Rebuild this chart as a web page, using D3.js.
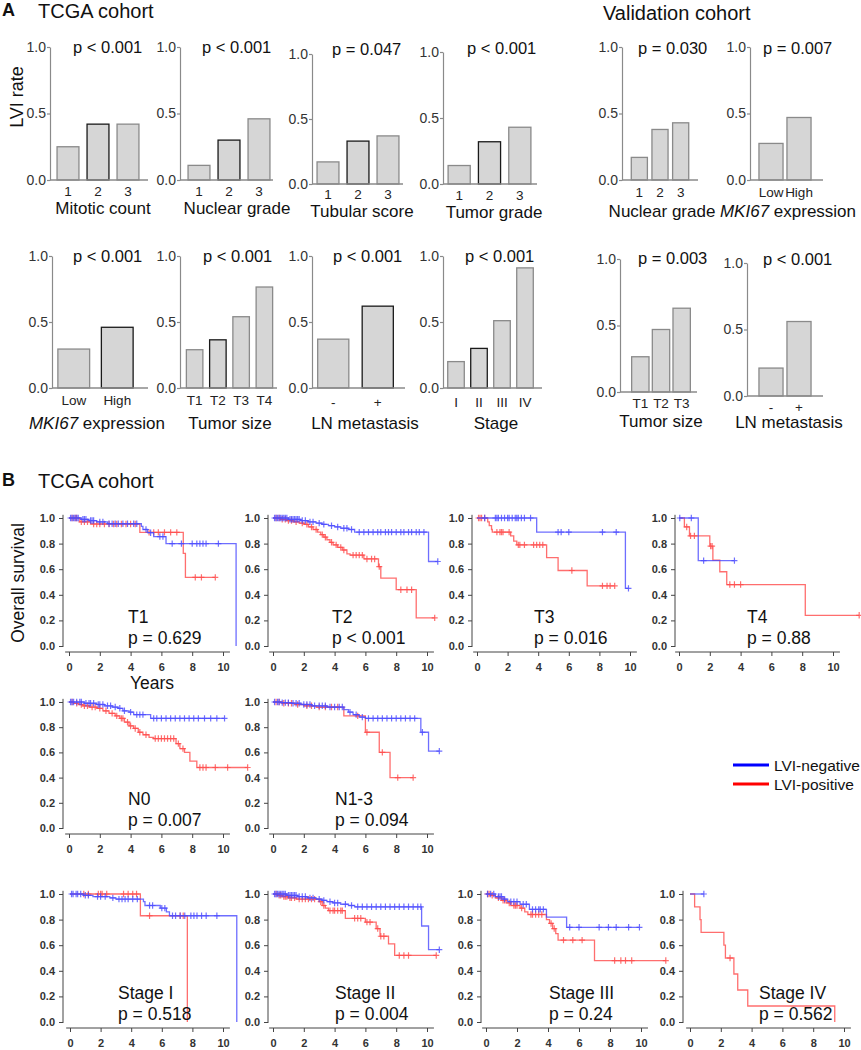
<!DOCTYPE html>
<html><head><meta charset="utf-8">
<script src="https://cdn.jsdelivr.net/npm/d3@7"></script>
<style>
body{margin:0;background:#fff}
svg text{font-family:"Liberation Sans",Arial,Helvetica,sans-serif}
</style>
</head><body>
<svg id="c" width="861" height="1050"></svg>
<script>
// ---------------- DATA : panel A (LVI rate bar charts) ----------------
const barTitles = ["Mitotic count","Nuclear grade","Tubular score","Tumor grade","Nuclear grade","MKI67 expression",
                   "MKI67 expression","Tumor size","LN metastasis","Stage","Tumor size","LN metastasis"];
const barCategories = [["1","2","3"],["1","2","3"],["1","2","3"],["1","2","3"],["1","2","3"],["Low","High"],
                       ["Low","High"],["T1","T2","T3","T4"],["-","+"],["I","II","III","IV"],["T1","T2","T3"],["-","+"]];
const barRates = [[0.25,0.42,0.42],[0.11,0.30,0.46],[0.17,0.33,0.37],[0.14,0.32,0.43],[0.17,0.38,0.43],[0.275,0.47],
                  [0.295,0.46],[0.29,0.365,0.54,0.765],[0.37,0.62],[0.20,0.30,0.51,0.91],[0.265,0.47,0.63],[0.21,0.56]];
const barPLabels = ["p < 0.001","p < 0.001","p = 0.047","p < 0.001","p = 0.030","p = 0.007",
                    "p < 0.001","p < 0.001","p < 0.001","p < 0.001","p = 0.003","p < 0.001"];
const barTickValues = [0, 0.5, 1.0];

// ---------------- DATA : panel B (Kaplan-Meier) ----------------
const kmNames = ["T1","T2","T3","T4","N0","N1-3","Stage I","Stage II","Stage III","Stage IV"];
const kmPLabels = ["p = 0.629","p < 0.001","p = 0.016","p = 0.88","p = 0.007","p = 0.094","p = 0.518","p = 0.004","p = 0.24","p = 0.562"];
const kmTickValuesX = [0,2,4,6,8,10];
const kmTickValuesY = [0,0.2,0.4,0.6,0.8,1.0];
// LVI-negative: [time (years), survival after event]
const kmNegSteps = [
  [[0.8,0.99],[1.3,0.98],[1.8,0.97],[2.5,0.955],[4.7,0.935],[4.8,0.91],[5.1,0.885],[5.5,0.855],[6.3,0.80],[10.85,0.0]],
  [[1.0,0.99],[1.8,0.98],[2.3,0.97],[2.8,0.96],[3.2,0.95],[3.6,0.94],[4.0,0.93],[4.4,0.92],[4.9,0.91],[5.3,0.89],[10.1,0.66]],
  [[3.9,0.89],[9.7,0.45]],
  [[1.25,0.667]],
  [[1.0,0.99],[1.8,0.98],[2.3,0.97],[2.8,0.96],[3.2,0.95],[3.5,0.93],[3.9,0.92],[4.2,0.90],[5.3,0.87]],
  [[0.5,0.995],[1.2,0.99],[1.8,0.98],[2.5,0.97],[3.5,0.96],[4.6,0.94],[4.9,0.92],[5.2,0.90],[5.6,0.88],[6.0,0.87],[9.6,0.76],[10.1,0.61]],
  [[0.9,0.99],[1.5,0.98],[2.6,0.97],[3.0,0.96],[4.8,0.94],[4.9,0.91],[5.9,0.89],[6.3,0.86],[6.5,0.83],[10.9,0.0]],
  [[0.9,0.99],[1.6,0.98],[2.2,0.97],[2.8,0.96],[3.2,0.95],[3.5,0.94],[3.9,0.93],[4.4,0.92],[4.9,0.91],[5.3,0.90],[9.65,0.75],[10.1,0.565]],
  [[0.6,0.98],[1.1,0.96],[1.4,0.94],[2.2,0.92],[2.8,0.88],[3.9,0.82],[5.2,0.74]],
  []
];
const kmNegCensor = [
  [0.1,0.2,0.3,0.4,0.5,0.6,0.9,1.0,1.1,1.4,1.5,1.6,2.0,2.2,2.6,2.8,3.0,3.2,3.5,3.8,4.2,4.4,5.0,5.3,5.9,6.1,6.7,7.3,8.0,8.3,8.5,8.7,8.9,9.7],
  [0.1,0.2,0.3,0.4,0.5,0.6,0.7,0.8,0.9,1.1,1.2,1.3,1.4,1.5,1.6,1.7,1.9,2.1,2.4,2.6,3.0,3.3,3.8,4.2,4.6,4.8,5.1,5.6,5.9,6.2,6.5,6.8,7.0,7.3,7.5,7.7,8.0,8.3,8.5,8.8,9.0,9.3,9.5,9.8,10.7],
  [0.5,1.2,1.3,1.4,1.6,1.8,2.0,2.1,2.3,2.5,2.6,2.7,2.9,3.1,3.5,5.3,5.5,6.0,8.2,9.1,9.9],
  [0.05,0.8,1.6,3.6],
  [0.1,0.2,0.3,0.5,0.7,0.8,1.1,1.3,1.4,1.6,1.9,2.0,2.2,2.5,2.7,3.0,3.3,3.6,4.0,4.4,4.6,4.8,5.5,5.7,6.0,6.3,6.6,6.9,7.2,7.5,7.8,8.1,8.4,8.8,9.2,9.6,10.1],
  [0.1,0.3,0.4,0.6,0.8,1.0,1.3,1.5,1.7,2.0,2.2,2.4,2.7,3.0,3.2,3.4,3.7,4.0,4.3,4.5,5.0,5.4,5.8,6.2,6.5,6.8,7.1,7.4,7.7,8.0,8.3,8.6,8.9,9.2,9.7,10.8],
  [0.1,0.2,0.4,0.5,0.7,1.0,1.2,1.8,2.0,2.3,2.8,3.2,3.4,3.6,3.8,4.1,4.4,5.2,5.4,6.0,6.2,6.7,6.9,7.2,7.5,7.9,8.1,8.3,8.6,8.9,9.6],
  [0.1,0.2,0.3,0.4,0.5,0.6,0.7,0.8,1.0,1.1,1.2,1.3,1.4,1.5,1.7,1.9,2.1,2.4,2.6,3.0,3.3,3.7,4.0,4.2,4.7,5.1,5.5,5.8,6.1,6.4,6.7,7.0,7.3,7.6,7.9,8.2,8.5,8.8,9.1,9.4,9.6,10.8],
  [0.1,0.3,0.5,0.8,0.9,1.0,1.2,1.6,1.8,2.0,2.4,2.6,3.0,3.2,3.4,3.5,3.7,5.4,6.0,7.3,7.9,8.4,9.2,9.9],
  [0.9]
];
// LVI-positive
const kmPosSteps = [
  [[0.7,0.97],[1.4,0.953],[4.6,0.888],[7.42,0.724],[7.56,0.536]],
  [[0.5,0.99],[0.9,0.98],[1.3,0.97],[1.7,0.96],[2.0,0.95],[2.3,0.93],[2.6,0.91],[2.9,0.89],[3.1,0.87],[3.3,0.85],[3.5,0.83],[3.7,0.81],[3.9,0.79],[4.2,0.77],[4.5,0.75],[4.8,0.72],[5.0,0.71],[5.9,0.68],[6.85,0.62],[7.0,0.53],[8.0,0.44],[9.3,0.22]],
  [[0.7,0.97],[0.8,0.94],[0.95,0.91],[1.0,0.89],[2.2,0.86],[2.4,0.82],[2.6,0.79],[4.55,0.69],[5.3,0.59],[7.2,0.47]],
  [[0.35,0.93],[0.68,0.86],[2.0,0.78],[2.2,0.67],[2.65,0.58],[3.1,0.48],[8.2,0.24]],
  [[0.3,0.99],[0.6,0.98],[0.9,0.97],[1.3,0.96],[1.8,0.95],[2.2,0.93],[2.6,0.91],[3.0,0.89],[3.3,0.87],[3.6,0.84],[3.9,0.81],[4.2,0.79],[4.5,0.76],[4.8,0.74],[5.2,0.72],[5.5,0.71],[6.95,0.67],[7.2,0.63],[7.5,0.60],[7.85,0.53],[8.3,0.48]],
  [[0.6,0.99],[1.4,0.98],[2.0,0.97],[2.8,0.96],[4.6,0.89],[6.0,0.76],[6.9,0.60],[7.6,0.40]],
  [[4.6,0.83],[7.67,0.0]],
  [[0.3,0.99],[0.6,0.98],[1.0,0.97],[1.5,0.96],[3.0,0.94],[3.2,0.91],[3.4,0.89],[3.6,0.87],[4.7,0.81],[6.0,0.78],[6.7,0.73],[6.95,0.67],[7.5,0.61],[7.9,0.52]],
  [[0.3,0.99],[0.6,0.97],[1.0,0.95],[1.3,0.93],[1.6,0.91],[2.2,0.89],[2.5,0.86],[2.7,0.84],[3.9,0.80],[4.1,0.77],[4.3,0.73],[4.5,0.69],[4.65,0.64],[7.0,0.48]],
  [[0.3,0.9],[0.65,0.8],[0.72,0.7],[2.2,0.6],[2.3,0.5],[2.85,0.375],[3.1,0.25],[3.75,0.125],[9.4,0.0]]
];
const kmPosCensor = [
  [0.2,0.4,0.5,0.8,1.0,1.2,1.6,1.8,2.0,2.3,2.6,2.9,3.1,3.4,3.7,4.0,4.3,5.2,5.5,5.8,6.2,6.6,7.0,8.2,8.6,9.5],
  [0.2,0.4,0.6,0.8,1.0,1.2,1.5,1.9,2.2,2.5,2.8,3.2,3.4,3.8,4.1,4.4,4.6,5.2,5.4,5.6,5.8,6.1,6.4,6.6,6.9,8.3,8.7,9.0,10.5],
  [0.1,0.2,0.3,0.5,1.3,1.5,1.6,1.7,2.1,2.7,2.8,3.1,3.7,3.9,4.1,4.3,6.2,8.2,8.5,8.7,9.0],
  [0.5,0.75,1.0,2.05,2.15,3.3,3.6,4.0,11.7],
  [0.2,0.5,0.8,1.0,1.2,1.5,1.7,2.0,2.4,2.8,3.1,3.4,3.5,3.8,4.0,4.3,4.6,5.0,5.6,5.8,6.0,6.2,6.4,6.6,6.8,7.1,7.4,8.5,8.7,8.9,9.5,10.3,11.6],
  [0.2,0.4,0.7,1.0,1.2,1.6,2.2,2.5,3.0,3.4,3.8,4.2,5.5,6.1,7.1,8.1,9.1],
  [0.9,1.2,1.85,2.0,2.1,2.4,3.5,3.8,4.1,4.35,5.2,7.2,7.4],
  [0.2,0.4,0.5,0.7,0.8,0.9,1.1,1.2,1.4,1.7,1.9,2.1,2.3,2.5,2.7,3.1,3.3,3.7,3.9,4.0,4.2,4.4,4.5,5.3,5.5,5.7,6.1,6.3,6.8,7.0,7.2,8.2,8.5,8.8,10.6],
  [0.1,0.2,0.4,0.8,1.1,1.2,1.5,1.8,1.9,2.0,2.3,2.9,3.0,3.2,3.4,3.6,4.2,4.4,5.0,5.6,6.2,8.3,8.7,9.0,9.4,11.6],
  [2.6]
];
const legendLabels = ["LVI-negative","LVI-positive"];

// ---------------- LAYOUT / STYLE ----------------
const barLayout = [
  {ax:50, xEnd:148, y1:47, y0:180, b0:53, b1:143, pad:.27, px:73, py:47, cy:191, tx:103, ty:208, em:1},
  {ax:180,xEnd:273, y1:47, y0:180, b0:184,b1:274, pad:.27, px:202,py:47, cy:191, tx:237, ty:208, em:1},
  {ax:312,xEnd:403, y1:54, y0:184, b0:313,b1:403, pad:.27, px:332,py:49, cy:194, tx:362, ty:211, em:1},
  {ax:443,xEnd:537, y1:52, y0:184, b0:444,b1:535, pad:.27, px:467,py:48, cy:195, tx:494, ty:212, em:1},
  {ax:622,xEnd:698, y1:47, y0:180, b0:629,b1:691, pad:.22, px:638,py:48, cy:192, tx:662, ty:211, em:-1},
  {ax:750,xEnd:823, y1:47, y0:180, b0:757,b1:813, pad:.14, px:763,py:48, cy:192, tx:788, ty:211, em:-1},
  {ax:52, xEnd:148, y1:256,y0:388, b0:52, b1:139, pad:.27, px:73, py:256,cy:400, tx:97,  ty:423, em:1},
  {ax:180,xEnd:277, y1:256,y0:388, b0:183,b1:276, pad:.29, px:203,py:256,cy:400, tx:230, ty:423, em:1},
  {ax:312,xEnd:405, y1:256,y0:388, b0:311,b1:400, pad:.30, px:333,py:256,cy:402, tx:365, ty:423, em:1},
  {ax:443,xEnd:542, y1:256,y0:388, b0:444.5,b1:536.5,pad:.28,px:465,py:256,cy:402, tx:496, ty:423, em:1},
  {ax:620,xEnd:697, y1:259,y0:392, b0:630,b1:692, pad:.16, px:638,py:258,cy:403, tx:661, ty:421, em:-1},
  {ax:747,xEnd:823, y1:263,y0:396, b0:757,b1:813, pad:.14, px:763,py:259,cy:407, tx:789, ty:422, em:-1}
];
const kmLayout = [
  {ax:63, x0:69, k:15.4, y1:518, y0:646, lx:128},
  {ax:268,x0:273,k:15.4, y1:518, y0:646, lx:332},
  {ax:472,x0:477,k:15.3, y1:518, y0:646, lx:534},
  {ax:675,x0:679,k:15.4, y1:518, y0:646, lx:747},
  {ax:63, x0:69, k:15.4, y1:702, y0:828, lx:128},
  {ax:268,x0:273,k:15.4, y1:702, y0:828, lx:335},
  {ax:63, x0:70, k:15.3, y1:894, y0:1022, lx:118},
  {ax:268,x0:273,k:15.4, y1:894, y0:1022, lx:335},
  {ax:481,x0:486,k:15.5, y1:894, y0:1022, lx:549},
  {ax:683,x0:690,k:15.4, y1:894, y0:1022, lx:759}
];
const NEG = "#4a4aff", POS = "#ff4a4a";

const svg = d3.select("#c");
svg.append("rect").attr("width",861).attr("height",1050).attr("fill","#fff");

function txt(g, x, y, s, size, opts={}) {
  return g.append("text").attr("x",x).attr("y",y).attr("font-size",size)
    .attr("text-anchor",opts.anchor||"start").attr("fill",opts.fill||"#111")
    .attr("font-weight",opts.weight||"normal").text(s);
}

// headings
txt(svg, 2, 16, "A", 18, {weight:"bold"});
txt(svg, 38, 18, "TCGA cohort", 20);
txt(svg, 603, 20, "Validation cohort", 20);
txt(svg, 2, 486, "B", 18, {weight:"bold"});
txt(svg, 38, 488, "TCGA cohort", 20);
svg.append("text").attr("transform","translate(23,97) rotate(-90)").attr("text-anchor","middle")
  .attr("font-size",18).attr("fill","#111").text("LVI rate");

// ---------------- bar panels ----------------
function setTitle(t, title) {
  if (title.startsWith("MKI67")) {
    t.append("tspan").attr("font-style","italic").text("MKI67");
    t.append("tspan").text(title.slice(5));
  } else t.text(title);
}
barLayout.forEach((L, i) => {
  const g = svg.append("g");
  const y = d3.scaleLinear().domain([0,1]).range([L.y0, L.y1]);
  const x = d3.scaleBand().domain(barCategories[i]).range([L.b0, L.b1]).paddingInner(L.pad).paddingOuter(L.pad/2);
  const ya = g.append("g").attr("transform",`translate(${L.ax},0)`)
    .call(d3.axisLeft(y).tickValues(barTickValues).tickFormat(d3.format(".1f")).tickSize(3).tickSizeOuter(0).tickPadding(1));
  ya.selectAll("path,line").attr("stroke","#8a8a8a").attr("stroke-width",1.2);
  ya.selectAll("text").attr("font-size",14).attr("fill","#333").attr("font-family","Liberation Sans, Arial, sans-serif");
  g.selectAll("rect.bar").data(barRates[i]).join("rect").attr("class","bar")
    .attr("x",(d,j)=>x(barCategories[i][j])).attr("width",x.bandwidth())
    .attr("y",d=>y(d)).attr("height",d=>y(0)-y(d))
    .attr("fill","#d6d6d6").attr("stroke",(d,j)=> j===L.em ? "#1a1a1a" : "#8a8a8a").attr("stroke-width",1.3);
  g.append("line").attr("x1",L.ax).attr("x2",L.xEnd).attr("y1",y(0)).attr("y2",y(0))
    .attr("stroke","#8a8a8a").attr("stroke-width",1.4);
  const xa = g.append("g").attr("transform",`translate(0,${L.y0})`)
    .call(d3.axisBottom(x).tickSize(0).tickPadding(L.cy - L.y0 - 5));
  xa.select(".domain").remove();
  xa.selectAll("text").attr("font-size",13.5).attr("fill","#222").attr("font-family","Liberation Sans, Arial, sans-serif");
  txt(g, L.px, L.py + 6, barPLabels[i], 16.5);
  const t = g.append("text").attr("x",L.tx).attr("y",L.ty+6).attr("text-anchor","middle")
    .attr("font-size",17).attr("fill","#111");
  setTitle(t, barTitles[i]);
});

// ---------------- KM panels ----------------
function survAt(steps, t) {
  let s = 1;
  for (const [st, sv] of steps) if (st <= t) s = sv;
  return s;
}
kmLayout.forEach((L, i) => {
  const g = svg.append("g");
  const x = d3.scaleLinear().domain([0,10]).range([L.x0, L.x0 + 10*L.k]);
  const y = d3.scaleLinear().domain([0,1]).range([L.y0, L.y1]);
  const ya = g.append("g").attr("transform",`translate(${L.ax},0)`)
    .call(d3.axisLeft(y).tickValues(kmTickValuesY).tickFormat(d3.format(".1f")).tickSize(4).tickSizeOuter(0).tickPadding(4));
  ya.select(".domain").remove();
  ya.selectAll("line").attr("stroke","#444");
  ya.selectAll("text").attr("font-size",11).attr("font-weight","bold").attr("fill","#333")
    .attr("font-family","Liberation Sans, Arial, sans-serif");
  g.append("line").attr("x1",L.ax).attr("x2",L.ax).attr("y1",y(1.025)).attr("y2",y(0)+1).attr("stroke","#444");
  const xb = L.y0 + 6;
  const xa = g.append("g").attr("transform",`translate(0,${xb})`)
    .call(d3.axisBottom(x).tickValues(kmTickValuesX).tickFormat(d3.format("d")).tickSize(4).tickSizeOuter(0).tickPadding(7));
  xa.select(".domain").remove();
  xa.selectAll("line").attr("stroke","#444");
  xa.selectAll("text").attr("font-size",11).attr("font-weight","bold").attr("fill","#333")
    .attr("font-family","Liberation Sans, Arial, sans-serif");
  g.append("line").attr("x1",x(-0.25)).attr("x2",x(10.45)).attr("y1",xb).attr("y2",xb).attr("stroke","#444");

  const curves = [
    {steps: kmPosSteps[i], cens: kmPosCensor[i], col: POS},
    {steps: kmNegSteps[i], cens: kmNegCensor[i], col: NEG}
  ];
  curves.forEach(c => {
    const lastStep = c.steps.length ? c.steps[c.steps.length-1][0] : 0;
    const end = Math.max(lastStep, d3.max(c.cens) || 0);
    let p = d3.path();
    p.moveTo(x(0), y(1));
    let cur = 1;
    c.steps.forEach(([t, s]) => { p.lineTo(x(t), y(cur)); p.lineTo(x(t), y(s)); cur = s; });
    p.lineTo(x(end), y(cur));
    g.append("path").attr("d", p.toString()).attr("fill","none").attr("stroke",c.col)
      .attr("stroke-width",1.3).attr("stroke-opacity",0.8);
    const mp = d3.path();
    c.cens.forEach(t => {
      const cx = x(t), cy = y(survAt(c.steps, t));
      mp.moveTo(cx-3, cy); mp.lineTo(cx+3, cy);
      mp.moveTo(cx, cy-3.2); mp.lineTo(cx, cy+3.2);
    });
    g.append("path").attr("d", mp.toString()).attr("fill","none").attr("stroke",c.col)
      .attr("stroke-width",1.2).attr("stroke-opacity",0.8);
  });
  txt(g, L.lx, L.y0 - 23, kmNames[i], 17.5);
  txt(g, L.lx, L.y0 - 2, kmPLabels[i], 17.5);
});
svg.append("text").attr("transform","translate(24,583) rotate(-90)").attr("text-anchor","middle")
  .attr("font-size",17.5).attr("fill","#111").text("Overall survival");
txt(svg, 152, 689, "Years", 17.5, {anchor:"middle"});

// legend
[NEG, POS].forEach((c, j) => {
  const yy = 765 + j*19;
  svg.append("line").attr("x1",733).attr("x2",769).attr("y1",yy).attr("y2",yy)
    .attr("stroke", j===0 ? "#0000ff" : "#ff0000").attr("stroke-width",3);
  txt(svg, 774, yy+5.5, legendLabels[j], 15.5);
});
</script>
</body></html>
